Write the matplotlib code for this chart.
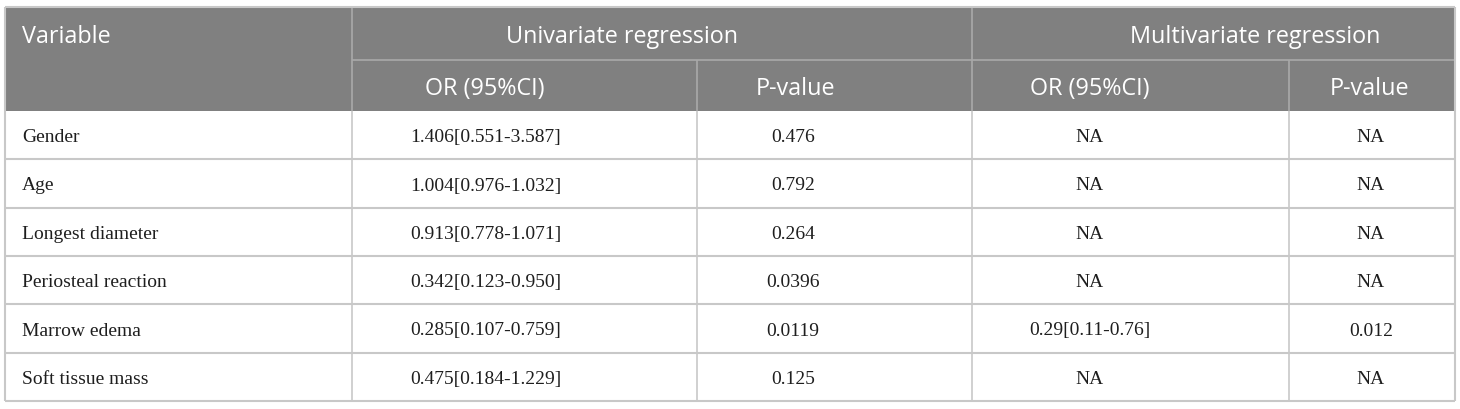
import matplotlib
matplotlib.use("Agg")
import matplotlib.pyplot as plt
from matplotlib.patches import Rectangle

# table content
variables = ["Gender", "Age", "Longest diameter", "Periosteal reaction",
             "Marrow edema", "Soft tissue mass"]
uni_or = ["1.406[0.551-3.587]", "1.004[0.976-1.032]", "0.913[0.778-1.071]",
          "0.342[0.123-0.950]", "0.285[0.107-0.759]", "0.475[0.184-1.229]"]
uni_p = ["0.476", "0.792", "0.264", "0.0396", "0.0119", "0.125"]
multi_or = ["NA", "NA", "NA", "NA", "0.29[0.11-0.76]", "NA"]
multi_p = ["NA", "NA", "NA", "NA", "0.012", "NA"]
group_labels = ["Univariate regression", "Multivariate regression"]
sub_labels = ["OR (95%CI)", "P-value", "OR (95%CI)", "P-value"]

# layout in pixels
W, H = 1460, 409
left, right = 5, 1455
col_x = [352, 697, 972, 1289]
head_top, head_mid, head_bot = 7, 59.5, 111
row_lines = [111, 159.3, 207.7, 256, 304.3, 352.7, 401]
text_x = [486, 793, 1090, 1371]
sub_x = [485, 795, 1090, 1369]
group_x = [622, 1255]

header_bg = "#808080"
head_line = "#a9a9a9"
grid = "#c8c8c8"
ink = "#1e1e1e"
sans = ["Open Sans", "DejaVu Sans"]
serif = ["Liberation Serif", "DejaVu Serif"]

fig = plt.figure(figsize=(W / 100, H / 100), dpi=100)
ax = fig.add_axes([0, 0, 1, 1])
ax.set_xlim(0, W)
ax.set_ylim(H, 0)
ax.axis("off")

ax.add_patch(Rectangle((left, head_top), right - left, head_bot - head_top,
                       facecolor=header_bg, edgecolor="none"))

# header lines
ax.hlines(head_mid, col_x[0], right, color=head_line, lw=1.2)
ax.vlines(col_x[0], head_top, head_bot, color=head_line, lw=1.2)
ax.vlines(col_x[2], head_top, head_bot, color=head_line, lw=1.2)
ax.vlines([col_x[1], col_x[3]], head_mid, head_bot, color=head_line, lw=1.2)
ax.hlines(head_top, left, right, color=grid, lw=1.5)

# body lines
ax.hlines(row_lines[1:], left, right, color=grid, lw=1.5)
ax.vlines([left, right], head_top, row_lines[-1], color=grid, lw=1.5)
ax.vlines(col_x, head_bot, row_lines[-1], color=grid, lw=1.2)

# header text (baseline positioned)
hb1 = (head_top + head_mid) / 2 + 9.5
hb2 = (head_mid + head_bot) / 2 + 10
ax.text(22, hb1, "Variable", color="white", fontsize=16.8, family=sans,
        ha="left", va="baseline")
for gx, lab in zip(group_x, group_labels):
    ax.text(gx, hb1, lab, color="white", fontsize=16.8, family=sans,
            ha="center", va="baseline")
for sx, lab in zip(sub_x, sub_labels):
    ax.text(sx, hb2, lab, color="white", fontsize=16.8, family=sans,
            ha="center", va="baseline")

# body text
for i in range(len(variables)):
    y = (row_lines[i] + row_lines[i + 1]) / 2 + 7
    ax.text(22, y, variables[i], fontsize=14, family=serif,
            ha="left", va="baseline", color=ink)
    for tx, val in zip(text_x, [uni_or[i], uni_p[i], multi_or[i], multi_p[i]]):
        ax.text(tx, y, val, fontsize=14, family=serif,
                ha="center", va="baseline", color=ink)

fig.savefig("out.png", dpi=100, facecolor="white")
